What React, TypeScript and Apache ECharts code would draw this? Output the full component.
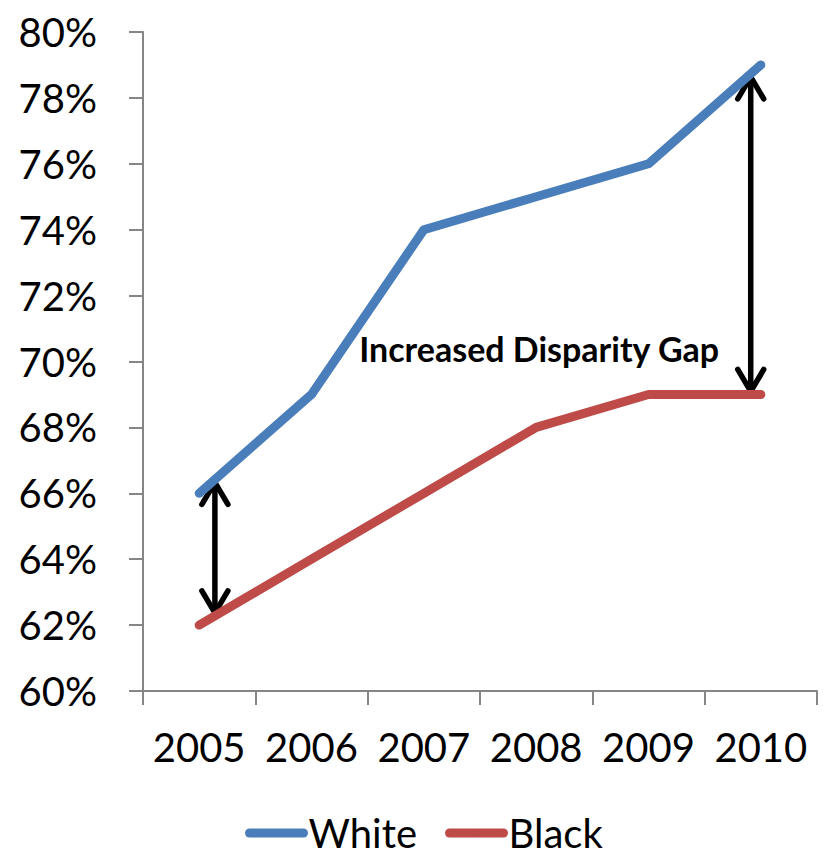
import React, { useEffect, useRef } from "react";
import * as echarts from "echarts";

// Graduation rates by year
const years = ["2005", "2006", "2007", "2008", "2009", "2010"];
const whiteRates = [66, 69, 74, 75, 76, 79];
const blackRates = [62, 64, 66, 68, 69, 69];
const yTickMin = 60;
const yTickMax = 80;
const yTickStep = 2;

const annotationText = "Increased Disparity Gap";
// arrow positions, as fractional category indices
const gapArrows = [0.14, 4.91];

const FONT = "Lato, 'Noto Sans', sans-serif";
const BLUE = "#4A7EBB";
const RED = "#BE4B48";
const AXIS = "#868686";

function valueAt(arr: number[], pos: number) {
  const i = Math.floor(pos);
  const j = Math.min(i + 1, arr.length - 1);
  const t = pos - i;
  return arr[i] + (arr[j] - arr[i]) * t;
}

export default function App() {
  const ref = useRef<HTMLDivElement>(null);

  useEffect(() => {
    document.body.style.margin = "0";
    if (!ref.current) return;
    const chart = echarts.init(ref.current, undefined, { renderer: "svg" });

    chart.setOption({
      animation: false,
      grid: { left: 143, right: 10, top: 32, bottom: 167 },
      legend: {
        top: 808,
        left: 240,
        data: ["White", "Black"],
        itemWidth: 54,
        itemHeight: 8,
        itemGap: 28,
        lineStyle: { width: 9, cap: "round" },
        textStyle: { fontFamily: FONT, fontSize: 40, color: "#000" },
      },
      xAxis: {
        type: "category",
        data: years,
        boundaryGap: true,
        axisLine: { lineStyle: { color: AXIS, width: 2 } },
        axisTick: { show: true, length: 14, inside: false, lineStyle: { color: AXIS, width: 2 } },
        axisLabel: { interval: 0, fontFamily: FONT, fontSize: 40, color: "#000", margin: 36 },
        splitLine: { show: false },
      },
      yAxis: {
        type: "value",
        min: yTickMin,
        max: yTickMax,
        interval: yTickStep,
        axisLine: { show: true, lineStyle: { color: AXIS, width: 2 } },
        axisTick: { show: true, length: 14, lineStyle: { color: AXIS, width: 2 } },
        axisLabel: {
          fontFamily: FONT,
          fontSize: 40,
          color: "#000",
          margin: 46,
          formatter: (v: number) => `${v}%`,
        },
        splitLine: { show: false },
      },
      series: [
        {
          name: "White",
          type: "line",
          data: whiteRates,
          symbol: "none",
          color: BLUE,
          lineStyle: { color: BLUE, width: 9, cap: "round", join: "round" },
        },
        {
          name: "Black",
          type: "line",
          data: blackRates,
          symbol: "none",
          color: RED,
          lineStyle: { color: RED, width: 9, cap: "round", join: "round" },
        },
      ],
    });

    // Double-headed arrows spanning the gap between the two lines
    const toPx = (pos: number, value: number) => {
      const i = Math.floor(pos);
      const a = chart.convertToPixel({ gridIndex: 0 }, [i, value]) as number[];
      const b = chart.convertToPixel({ gridIndex: 0 }, [i + 1, value]) as number[];
      return [a[0] + (b[0] - a[0]) * (pos - i), a[1]];
    };
    const arrowStyle = { stroke: "#000", lineWidth: 5.5, lineCap: "round", lineJoin: "miter", fill: null };
    const headW = 13;
    const headH = 23;
    const elements: any[] = [];
    gapArrows.forEach((pos) => {
      const top = toPx(pos, valueAt(whiteRates, pos));
      const bot = toPx(pos, valueAt(blackRates, pos));
      const x = top[0];
      const y1 = top[1] + 2;
      const y2 = bot[1] - 2;
      elements.push({ type: "line", shape: { x1: x, y1, x2: x, y2 }, style: arrowStyle });
      elements.push({
        type: "polyline",
        shape: { points: [[x - headW, y1 + headH], [x, y1 + 1], [x + headW, y1 + headH]] },
        style: arrowStyle,
      });
      elements.push({
        type: "polyline",
        shape: { points: [[x - headW, y2 - headH], [x, y2 - 1], [x + headW, y2 - headH]] },
        style: arrowStyle,
      });
    });
    const labelPos = chart.convertToPixel({ gridIndex: 0 }, [3, 70.4]) as number[];
    elements.push({
      type: "text",
      x: labelPos[0] + 3,
      y: labelPos[1],
      style: {
        text: annotationText,
        fontFamily: FONT,
        fontWeight: "bold",
        fontSize: 34,
        fill: "#000",
        align: "center",
        verticalAlign: "middle",
      },
    });
    chart.setOption({ graphic: { elements } });

    return () => chart.dispose();
  }, []);

  return <div ref={ref} style={{ width: 827, height: 858 }} />;
}
